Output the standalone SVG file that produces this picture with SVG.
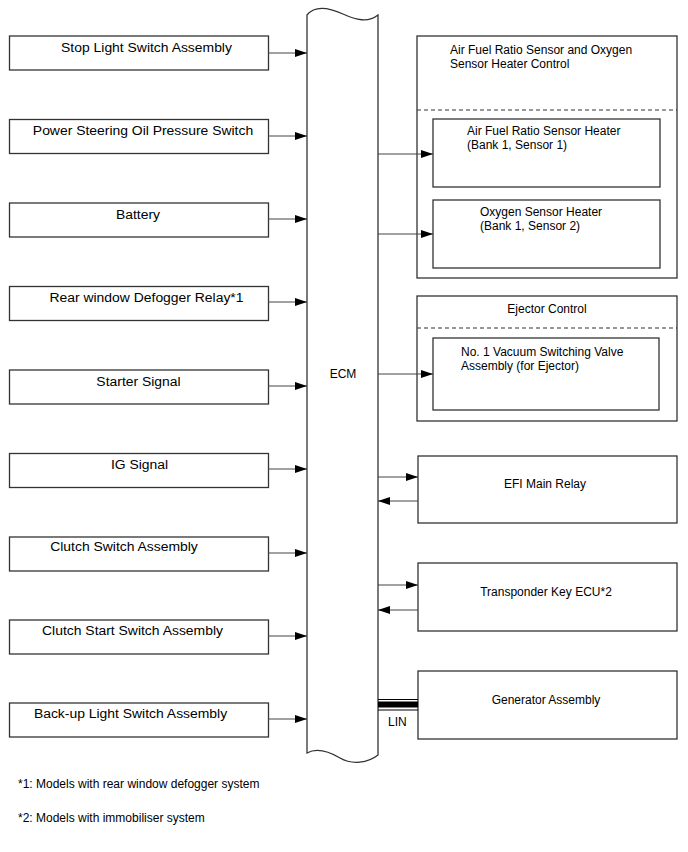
<svg xmlns="http://www.w3.org/2000/svg" width="688" height="852" viewBox="0 0 688 852">
<style>
.box{fill:#fff;stroke:#333;stroke-width:1.3}
.t{font-family:"Liberation Sans",Arial,sans-serif;font-size:12px;fill:#000}
.m{text-anchor:middle}
.c{stroke:#444;stroke-width:1;fill:none}
.d{stroke:#333;stroke-width:1.2;stroke-dasharray:4 3;fill:none}
</style>
<defs>
<marker id="ah" markerWidth="12" markerHeight="8" refX="12" refY="4" orient="auto" markerUnits="userSpaceOnUse">
<path d="M0,0 L12,4 L0,8 Z" fill="#000"/>
</marker>
</defs>
<rect width="688" height="852" fill="#fff"/>

<g id="ecm">
<path class="box" d="M307,15 C315,5 330,8 343,14 C356,20 368,23 378,15 L378,755 C368,763 352,765 340,758 C328,751 316,748 307,753 Z"/>
<text class="t m" x="343" y="378">ECM</text>
</g>

<g id="n1"><rect class="box" x="9.5" y="36" width="259" height="34"/><text class="t m" transform="translate(146.5,52) scale(1.16,1)">Stop Light Switch Assembly</text></g>
<g id="n2"><rect class="box" x="9.5" y="119.5" width="259" height="34"/><text class="t m" transform="translate(143,135) scale(1.16,1)">Power Steering Oil Pressure Switch</text></g>
<g id="n3"><rect class="box" x="9.5" y="203" width="259" height="34"/><text class="t m" transform="translate(138,219) scale(1.16,1)">Battery</text></g>
<g id="n4"><rect class="box" x="9.5" y="286.5" width="259" height="34"/><text class="t m" transform="translate(146.5,302) scale(1.16,1)">Rear window Defogger Relay*1</text></g>
<g id="n5"><rect class="box" x="9.5" y="370" width="259" height="34"/><text class="t m" transform="translate(138.5,386) scale(1.16,1)">Starter Signal</text></g>
<g id="n6"><rect class="box" x="9.5" y="453.5" width="259" height="34"/><text class="t m" transform="translate(139.5,469) scale(1.16,1)">IG Signal</text></g>
<g id="n7"><rect class="box" x="9.5" y="537" width="259" height="34"/><text class="t m" transform="translate(124,551) scale(1.16,1)">Clutch Switch Assembly</text></g>
<g id="n8"><rect class="box" x="9.5" y="620" width="259" height="34"/><text class="t m" transform="translate(132.5,635) scale(1.16,1)">Clutch Start Switch Assembly</text></g>
<g id="n9"><rect class="box" x="9.5" y="703" width="259" height="34"/><text class="t m" transform="translate(130.5,718) scale(1.16,1)">Back-up Light Switch Assembly</text></g>

<g id="afr">
<rect class="box" x="417" y="36" width="260" height="242"/>
<text class="t" x="450" y="54">Air Fuel Ratio Sensor and Oxygen</text>
<text class="t" x="450" y="68">Sensor Heater Control</text>
<line class="d" x1="417" y1="110" x2="677" y2="110"/>
</g>
<g id="afr1"><rect class="box" x="433" y="119" width="227" height="68"/><text class="t" x="467" y="135">Air Fuel Ratio Sensor Heater</text><text class="t" x="467" y="149">(Bank 1, Sensor 1)</text></g>
<g id="afr2"><rect class="box" x="433" y="200" width="227" height="68"/><text class="t" x="480" y="216">Oxygen Sensor Heater</text><text class="t" x="480" y="230">(Bank 1, Sensor 2)</text></g>

<g id="ejector">
<rect class="box" x="417" y="296" width="260" height="125"/>
<text class="t m" x="547" y="313">Ejector Control</text>
<line class="d" x1="417" y1="328" x2="677" y2="328"/>
</g>
<g id="vsv"><rect class="box" x="433" y="338" width="226" height="72"/><text class="t" x="461" y="356">No. 1 Vacuum Switching Valve</text><text class="t" x="461" y="370">Assembly (for Ejector)</text></g>

<g id="efi"><rect class="box" x="418" y="456" width="259" height="67"/><text class="t m" x="545" y="488">EFI Main Relay</text></g>
<g id="tke"><rect class="box" x="418" y="563" width="259" height="68"/><text class="t m" x="546" y="596">Transponder Key ECU*2</text></g>
<g id="gen"><rect class="box" x="418" y="671" width="259" height="68"/><text class="t m" x="546" y="704">Generator Assembly</text></g>

<g id="connectors">
<line class="c" x1="268" y1="53" x2="307" y2="53" marker-end="url(#ah)"/>
<line class="c" x1="268" y1="136" x2="307" y2="136" marker-end="url(#ah)"/>
<line class="c" x1="268" y1="219" x2="307" y2="219" marker-end="url(#ah)"/>
<line class="c" x1="268" y1="302" x2="307" y2="302" marker-end="url(#ah)"/>
<line class="c" x1="268" y1="386" x2="307" y2="386" marker-end="url(#ah)"/>
<line class="c" x1="268" y1="469" x2="307" y2="469" marker-end="url(#ah)"/>
<line class="c" x1="268" y1="553" x2="307" y2="553" marker-end="url(#ah)"/>
<line class="c" x1="268" y1="636" x2="307" y2="636" marker-end="url(#ah)"/>
<line class="c" x1="268" y1="719" x2="307" y2="719" marker-end="url(#ah)"/>
<line class="c" x1="378" y1="154" x2="433" y2="154" marker-end="url(#ah)"/>
<line class="c" x1="378" y1="234" x2="433" y2="234" marker-end="url(#ah)"/>
<line class="c" x1="378" y1="374" x2="433" y2="374" marker-end="url(#ah)"/>
<line class="c" x1="378" y1="477" x2="418" y2="477" marker-end="url(#ah)"/>
<line class="c" x1="418" y1="501" x2="378" y2="501" marker-end="url(#ah)"/>
<line class="c" x1="378" y1="585" x2="418" y2="585" marker-end="url(#ah)"/>
<line class="c" x1="418" y1="610" x2="378" y2="610" marker-end="url(#ah)"/>
<line x1="378" y1="699.5" x2="418" y2="699.5" stroke="#000" stroke-width="1.2"/>
<rect x="378" y="701.5" width="40" height="6" fill="#000"/>
<line x1="378" y1="710" x2="418" y2="710" stroke="#000" stroke-width="1.2"/>
<text class="t" x="388" y="726">LIN</text>
</g>

<g id="notes">
<text class="t" x="18" y="788">*1: Models with rear window defogger system</text>
<text class="t" x="18" y="822">*2: Models with immobiliser system</text>
</g>
</svg>
